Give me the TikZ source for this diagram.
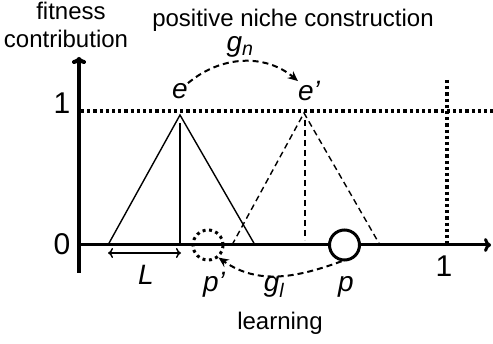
\documentclass[tikz,border=0pt]{standalone}
\usepackage{fontspec}
\setmainfont{Liberation Sans}
\usetikzlibrary{arrows.meta}
\begin{document}
\begin{tikzpicture}[x=1pt, y=1pt,
  every node/.style={font=\fontsize{24}{26}\selectfont, inner sep=0pt},
  num/.style={font=\fontsize{30}{32}\selectfont},
  var/.style={font=\fontsize{28}{30}\selectfont\itshape},
  dotline/.style={line width=3.2pt, dash pattern=on 3.2pt off 3pt},
  thinline/.style={line width=1.4pt},
  move/.style={line width=2pt, dash pattern=on 6pt off 4pt, -{Stealth[length=10pt, width=9pt]}}]
\useasboundingbox (0,0) rectangle (493,343);
% the two niches
\draw[thinline] (108,98) -- (180,228) -- (255,98);
\draw[thinline] (180,220) -- (180,98);
\draw[thinline, dash pattern=on 6pt off 4pt] (232,98) -- (304,230) -- (380,98);
\draw[thinline, dash pattern=on 6pt off 4pt] (305,223) -- (305,103);
% axes
\draw[dotline] (81,232) -- (493,232);
\draw[dotline] (447,263) -- (447,98);
\draw[line width=3pt, -{To[length=7pt, width=14pt]}] (79,98) -- (491,98);
\draw[line width=4pt, -{To[length=7pt, width=14pt]}] (79,70) -- (79,286);
\node[num, anchor=base] (one) at (62,229) {1};
\node[num, anchor=base] (zero) at (62,88) {0};
\node[num, anchor=base] (xone) at (444,66) {1};
\node[anchor=base] (fit) at (71,323) {fitness};
\node[anchor=base] (contrib) at (66,295) {contribution};
\draw[thinline, {To[length=5pt, width=10pt]}-{To[length=5pt, width=10pt]}] (108,90) -- (181,90);
\node[var, anchor=base] (L) at (146,58) {L};
% phenotypes
\node[draw, circle, line width=3pt, dash pattern=on 3pt off 3.5pt, minimum size=30pt] (p') at (208,98) {};
\node[draw, circle, line width=3pt, fill=white, minimum size=30pt] (p) at (344.5,98) {};
\node[var, anchor=base] (plbl) at (346,51) {p};
\node[var, anchor=base] (p'lbl) at (214,51) {p’};
\node[var] (e) at (180,252) {e};
\node[var] (e') at (309,252) {e’};
% moves
\draw[move] (e.north east) to[out=40, in=140] (e'.north west);
\node[var, anchor=base] (gn) at (240,291) {g\textsubscript{n}};
\node[anchor=base] (nc) at (293,316) {positive niche construction};
\draw[move] (p.-100) to[out=200, in=-35] (p'.-50);
\node[var, anchor=base] (gl) at (274,51) {g\textsubscript{l}};
\node[anchor=base] (learn) at (280,13) {learning};
\end{tikzpicture}
\end{document}
